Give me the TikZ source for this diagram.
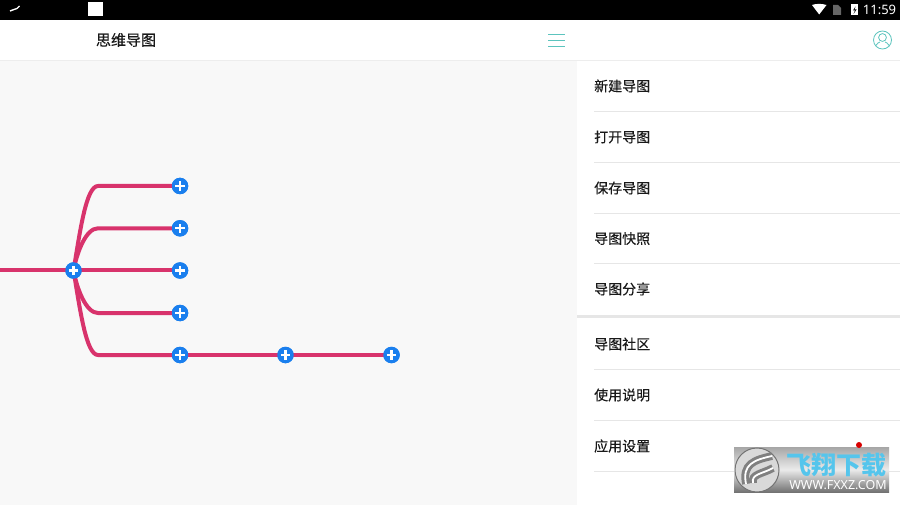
\documentclass[tikz,border=0pt]{standalone}
\usepackage{fontspec}
\setmainfont{Noto Sans}
\newfontfamily\cjk[FakeBold=0.25]{Noto Sans CJK SC}
\newfontfamily\cjkheavy{Noto Sans CJK SC}
\usetikzlibrary{positioning}
\definecolor{rosebranch}{HTML}{D8336C}
\definecolor{plusblue}{HTML}{1A7FEE}
\definecolor{canvasgray}{HTML}{F8F8F8}
\definecolor{rulegray}{HTML}{E6E6E6}
\definecolor{tealicon}{HTML}{5CC4BE}
\definecolor{logoblue}{HTML}{55C5EC}
\tikzset{
  branch/.style={rosebranch, line width=4pt, line cap=round},
  plusnode/.style={circle, fill=plusblue, inner sep=0pt, minimum size=16.5pt, path picture={
      \draw [white, line width=2.3pt]
      (path picture bounding box.center) +(-4.6pt,0) -- +(4.6pt,0)
      (path picture bounding box.center) +(0,-4.6pt) -- +(0,4.6pt) ;}},
  menuitem/.style={anchor=west, font=\cjk\fontsize{14}{14}\selectfont, text=black!90, inner sep=0pt},
  menurule/.style={rulegray, line width=0.7pt},
  swoosh/.style={line width=3pt, double=white, double distance=1.8pt, draw=black!50},
}
\begin{document}
\begin{tikzpicture}[x=1pt,y=-1pt]
  \useasboundingbox (0,0) rectangle (900,505) ;
  \fill [white] (0,0) rectangle (900,505) ;
  % panels
  \fill [canvasgray] (0,60) rectangle (577,505) ;
  \draw [rulegray!70, line width=0.7pt] (0,60.5) -- (900,60.5) ;
  \fill [black] (0,0) rectangle (900,20) ;
  % status bar
  \fill [white] (88,2) rectangle (103,16) ;
  \draw [white, line width=1.4pt] (10,11) -- (14,9.5) -- (17,8.5) -- (19.5,6) ;
  \fill [white] (812,5) .. controls (816,3.5) and (822,3.5) .. (826.5,5) -- (819.2,14.5) -- cycle ;
  \fill [black!60] (833,5) -- (838,5) -- (841,8) -- (841,15) -- (833,15) -- cycle ;
  \fill [white] (851,4.5) rectangle (858,15.5) ;
  \fill [black] (855.5,6.5) -- (853,10.5) -- (855,10.5) -- (853.5,14) -- (856.5,9.5) -- (854.5,9.5) -- cycle ;
  \node (clock) [text=white, font=\bfseries\fontsize{13}{13}\selectfont, inner sep=0pt] at (879.5,9.5) {11:59} ;
  % title bar
  \node (title) [font=\cjk\fontsize{15}{15}\selectfont, text=black!90, inner sep=0pt] at (126,40) {思维导图} ;
  \foreach \y in {34.5,40.5,46.5} { \draw [tealicon, line width=1.3pt] (548,\y) -- (565,\y) ; }
  \draw [tealicon, line width=0.8pt] (882.5,40) circle (9pt) ;
  \draw [tealicon, line width=0.8pt] (882.5,37.5) circle (3.9pt) ;
  \draw [tealicon, line width=0.8pt] (875.5,46) .. controls (877,43) and (879,42.5) .. (880,42) ;
  \draw [tealicon, line width=0.8pt] (889.5,46) .. controls (888,43) and (886,42.5) .. (885,42) ;
  % mind map
  \coordinate (start) at (0,270.5) ;
  \node (root) [plusnode] at (73.5,270.5) {} ;
  \node (leafa) [plusnode] at (180,186) {} ;
  \node (leafb) [plusnode] at (180,228.3) {} ;
  \node (leafc) [plusnode] at (180,270.5) {} ;
  \node (leafd) [plusnode] at (180,313) {} ;
  \node (leafe) [plusnode] at (180,355) {} ;
  \node (leaff) [plusnode] at (285.5,355) {} ;
  \node (leafg) [plusnode] at (391.5,355) {} ;
  \draw [branch] (start) -- (root.center) -- (leafc.center) ;
  \draw [branch] (root.center) .. controls (80,232) and (86,186) .. (98,186) -- (leafa.center) ;
  \draw [branch] (root.center) .. controls (77,252) and (86,228.3) .. (98,228.3) -- (leafb.center) ;
  \draw [branch] (root.center) .. controls (77,289) and (86,313) .. (98,313) -- (leafd.center) ;
  \draw [branch] (root.center) .. controls (80,309) and (86,355) .. (98,355) -- (leafe.center) ;
  \draw [branch] (leafe.center) -- (leaff.center) -- (leafg.center) ;
  \foreach \n in {root,leafa,leafb,leafc,leafd,leafe,leaff,leafg} {
    \node [plusnode] at (\n) {} ;
  }
  % menu
  \foreach \y/\t in {86/新建导图,137/打开导图,188/保存导图,238.5/导图快照,289/导图分享,344/导图社区,395/使用说明,446/应用设置} {
    \node [menuitem] at (594,\y) {\t} ;
  }
  \foreach \y in {111.5,162.5,213.5,263.5,369.5,420.5,471.5} { \draw [menurule] (594,\y) -- (900,\y) ; }
  \draw [rulegray, line width=3pt] (577,316.5) -- (900,316.5) ;
  % watermark
  \shade [top color=black!35, bottom color=black!55, middle color=black!8] (734,447) rectangle (889,492) ;
  \fill [black!15] (757,470) circle (22pt) ;
  \draw [black!55, line width=1pt] (757,470) circle (22pt) ;
  \draw [swoosh] (746,484) .. controls (742,464) and (754,460) .. (772,456) ;
  \draw [swoosh] (753,483) .. controls (751,474) and (762,474) .. (773,468) ;
  \node (brand) [text=logoblue, font=\cjkheavy\bfseries\fontsize{25}{25}\selectfont, inner sep=0pt] at (836,465) {飞翔下载} ;
  \node (site) [text=white, font=\bfseries\fontsize{12.5}{12.5}\selectfont, inner sep=0pt] at (838,485) {WWW.FXXZ.COM} ;
  \fill [red!85!black] (859,445) circle (3pt) ;
\end{tikzpicture}
\end{document}
